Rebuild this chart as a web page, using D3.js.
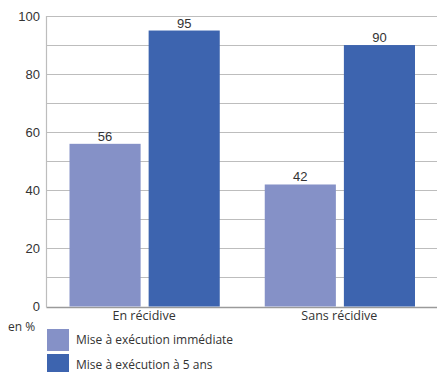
<!DOCTYPE html>
<html><head><meta charset="utf-8">
<script src="https://cdn.jsdelivr.net/npm/d3@7"></script>
<style>body{margin:0;background:#fff}svg{display:block}</style>
</head><body>
<svg id="c" width="437" height="372"></svg>
<script>
const categories = ["En récidive", "Sans récidive"];
const seriesNames = ["Mise à exécution immédiate", "Mise à exécution à 5 ans"];
const immediate = [56, 42];
const fiveYears = [95, 90];
const yTicks = [0, 20, 40, 60, 80, 100];
const gridTicks = [0,10,20,30,40,50,60,70,80,90,100];
const colors = ["#8591c7", "#3d64af"];

(function(){
const svg = d3.select("#c");
const mLeft = 46.5, mRight = 437, mTop = 16, mBottom = 306.5;
const x = d3.scaleBand().domain(categories).range([mLeft, mRight]).paddingInner(0).paddingOuter(0);
const inner = d3.scaleBand().domain([0,1]).range([23, x.bandwidth()-22]).paddingInner(8/79);
const y = d3.scaleLinear().domain([0,100]).range([mBottom, mTop]);
const numFont = "'Liberation Sans', Arial, sans-serif";
const txtFont = "'Open Sans', sans-serif";

// grid
svg.append("g").selectAll("line").data(gridTicks).join("line")
  .attr("x1", mLeft).attr("x2", mRight)
  .attr("y1", d => Math.round(y(d))+0.5).attr("y2", d => Math.round(y(d))+0.5)
  .attr("stroke", d => d===0 ? "#9a9a9a" : "#bdbdbd").attr("stroke-width", d => d===0 ? 1.5 : 1.2);
// left axis line
svg.append("line").attr("x1", mLeft).attr("x2", mLeft).attr("y1", y(100)).attr("y2", y(0)+1)
  .attr("stroke", "#bdbdbd").attr("stroke-width", 1.2);

// y tick labels
svg.append("g").selectAll("text").data(yTicks).join("text")
  .attr("x", 40).attr("y", d => y(d)).attr("dy", "0.35em")
  .attr("text-anchor", "end").attr("font-family", numFont).attr("font-size", 13).attr("fill", "#333")
  .text(d => d);

const series = [immediate, fiveYears];
series.forEach((vals, si) => {
  const g = svg.append("g");
  g.selectAll("rect").data(categories).join("rect")
    .attr("x", c => x(c) + inner(si))
    .attr("width", inner.bandwidth())
    .attr("y", (c,i) => y(vals[i]))
    .attr("height", (c,i) => y(0) - y(vals[i]))
    .attr("fill", colors[si]);
  g.selectAll("text").data(categories).join("text")
    .attr("x", c => x(c) + inner(si) + inner.bandwidth()/2)
    .attr("y", (c,i) => y(vals[i]) - 3)
    .attr("text-anchor", "middle").attr("font-family", numFont).attr("font-size", 13).attr("fill", "#333")
    .text((c,i) => vals[i]);
});

// category labels
svg.append("g").selectAll("text").data(categories).join("text")
  .attr("x", c => x(c) + x.bandwidth()/2).attr("y", 320)
  .attr("text-anchor", "middle").attr("font-family", txtFont).attr("font-size", 12.5).attr("fill", "#333")
  .text(c => c);

svg.append("text").attr("x", 8).attr("y", 331).attr("font-family", txtFont).attr("font-size", 12).attr("fill", "#333").text("en %");

// legend
const lg = svg.append("g");
seriesNames.forEach((s, i) => {
  const yy = 329 + i*25;
  lg.append("rect").attr("x", 47).attr("y", yy).attr("width", 22).attr("height", 22).attr("fill", colors[i]);
  lg.append("text").attr("x", 76).attr("y", yy + 11).attr("dy", "0.35em")
    .attr("font-family", txtFont).attr("font-size", 12).attr("fill", "#333").text(s);
});
})();
</script>
</body></html>
